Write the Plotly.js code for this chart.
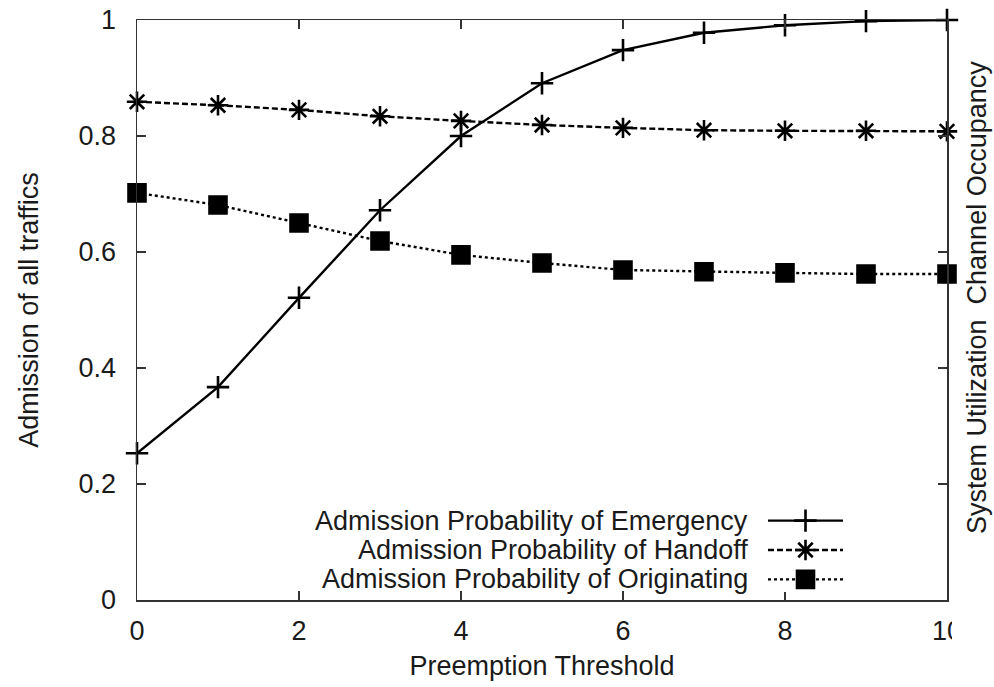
<!DOCTYPE html>
<html>
<head>
<meta charset="utf-8">
<script src="https://cdn.plot.ly/plotly-3.0.1.min.js"></script>
<style>html,body{margin:0;padding:0;background:#fff;}#chart{width:994px;height:687px;}</style>
</head>
<body>
<div id="chart"></div>
<script>
// Data
var thresholds = [0, 1, 2, 3, 4, 5, 6, 7, 8, 9, 10];
var emergency  = [0.253, 0.367, 0.521, 0.672, 0.800, 0.891, 0.948, 0.978, 0.991, 0.998, 1.000];
var handoff    = [0.859, 0.853, 0.845, 0.834, 0.826, 0.819, 0.814, 0.810, 0.809, 0.809, 0.808];
var originating= [0.702, 0.681, 0.650, 0.619, 0.595, 0.581, 0.569, 0.566, 0.564, 0.562, 0.562];
var seriesNames = ["Admission Probability of Emergency", "Admission Probability of Handoff", "Admission Probability of Originating"];
var xTickVals = [0, 2, 4, 6, 8, 10];
var xTickText = ["0", "2", "4", "6", "8", "10"];
var yTickVals = [0, 0.2, 0.4, 0.6, 0.8, 1];
var yTickText = ["0", "0.2", "0.4", "0.6", "0.8", "1"];

var ink = "#1a1a1a";
var FONT = "Liberation Sans, Arial, Helvetica, sans-serif";
var FS = 27;

var styles = [
  {dash: "solid", symbol: "cross-thin-open", size: 16, color: "#000", width: 2.4},
  {dash: "6px,3px", symbol: "asterisk-open", size: 17, color: "#000", width: 2.4},
  {dash: "3px,3px", symbol: "square", size: 17, color: "#000", width: 2.4}
];
var values = [emergency, handoff, originating];

var traces = [];
values.forEach(function (v, i) {
  var s = styles[i];
  traces.push({
    x: thresholds, y: v, type: "scatter", mode: "lines+markers", name: seriesNames[i],
    showlegend: false, cliponaxis: false,
    line: {color: s.color, width: s.width, dash: s.dash},
    marker: {symbol: s.symbol, size: s.size, color: s.color, line: {color: s.color, width: 2.6}}
  });
});

// Legend keys (gnuplot style: text right-aligned, sample to its right) on an overlay axis
var legY = [0.85, 0.5, 0.15];
values.forEach(function (v, i) {
  var s = styles[i];
  traces.push({
    x: [0, 1], y: [legY[i], legY[i]], xaxis: "x2", yaxis: "y2", type: "scatter", mode: "lines",
    showlegend: false, hoverinfo: "skip", cliponaxis: false,
    line: {color: s.color, width: s.width, dash: s.dash}
  });
  traces.push({
    x: [0.5], y: [legY[i]], xaxis: "x2", yaxis: "y2", type: "scatter", mode: "markers",
    showlegend: false, hoverinfo: "skip", cliponaxis: false,
    marker: {symbol: s.symbol, size: s.size, color: s.color, line: {color: s.color, width: 2.6}}
  });
});

var L = 137, R = 947, T = 20, B = 600;
function px(x) { return (x - L) / (R - L); }
function py(y) { return (B - y) / (B - T); }
var rowTop = 508, rowBot = 592;

var annotations = [];
values.forEach(function (v, i) {
  var yPix = rowTop + (rowBot - rowTop) * (1 - legY[i]);
  annotations.push({
    xref: "paper", yref: "paper", x: px(750), y: py(yPix), xanchor: "right", yanchor: "middle",
    text: seriesNames[i], showarrow: false, font: {family: FONT, size: FS, color: ink}
  });
});
annotations.push({
  xref: "paper", yref: "paper", x: px(994), y: py(298), xanchor: "right", yanchor: "middle",
  textangle: -90, text: "System Utilization  Channel Occupancy", showarrow: false,
  font: {family: FONT, size: FS, color: ink}
});

var layout = {
  width: 994, height: 687,
  margin: {l: L, r: 994 - R, t: T, b: 687 - B, pad: 0},
  paper_bgcolor: "#fff", plot_bgcolor: "#fff",
  font: {family: FONT, size: FS, color: ink},
  showlegend: false,
  xaxis: {
    range: [0, 10], tickmode: "array", tickvals: xTickVals, ticktext: xTickText,
    ticks: "inside", ticklen: 9, tickwidth: 1.3, tickcolor: "#333",
    showline: true, linecolor: "#333", linewidth: 1.5, mirror: "ticks",
    showgrid: false, zeroline: false, ticklabelstandoff: 6,
    tickfont: {family: FONT, size: FS, color: ink},
    title: {text: "Preemption Threshold", font: {family: FONT, size: FS, color: ink}, standoff: 11}
  },
  yaxis: {
    range: [0, 1], tickmode: "array", tickvals: yTickVals, ticktext: yTickText,
    ticks: "inside", ticklen: 9, tickwidth: 1.3, tickcolor: "#333",
    showline: true, linecolor: "#333", linewidth: 1.5, mirror: "ticks",
    showgrid: false, zeroline: false, ticklabelstandoff: 14,
    tickfont: {family: FONT, size: FS, color: ink},
    title: {text: "Admission of all traffics", font: {family: FONT, size: FS, color: ink}, standoff: 32}
  },
  xaxis2: {domain: [px(768), px(843)], range: [0, 1], visible: false, anchor: "y2", fixedrange: true},
  yaxis2: {domain: [py(rowBot), py(rowTop)], range: [0, 1], visible: false, anchor: "x2", fixedrange: true},
  annotations: annotations,
  shapes: [
    {type: "rect", xref: "paper", yref: "paper", x0: px(952), x1: px(968), y0: py(640), y1: py(604),
     fillcolor: "#fff", line: {width: 0}, layer: "above"}
  ]
};

Plotly.newPlot("chart", traces, layout, {displayModeBar: false, staticPlot: true});
</script>
</body>
</html>
